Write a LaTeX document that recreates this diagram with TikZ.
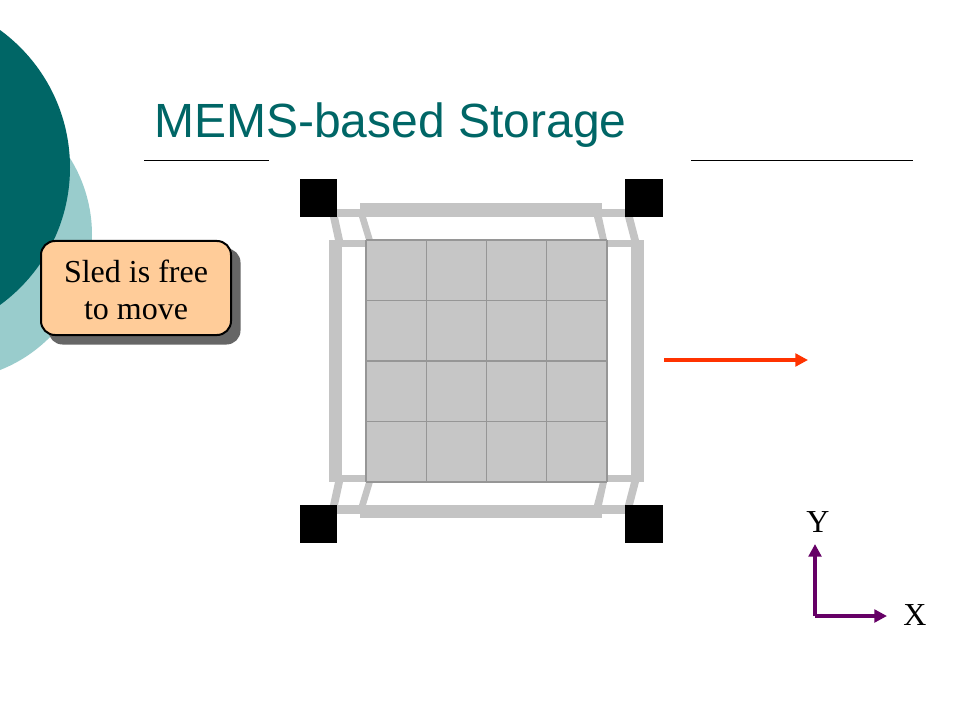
\documentclass[tikz,border=0pt]{standalone}
\usepackage{fontspec}
\setmainfont{Liberation Serif}
\newfontfamily\titlefont{Liberation Sans}
\usetikzlibrary{arrows.meta}
\definecolor{tealdark}{HTML}{006666}
\definecolor{teallight}{HTML}{99CCCC}
\definecolor{springgray}{HTML}{C4C4C4}
\definecolor{sledgray}{HTML}{C6C6C6}
\definecolor{gridgray}{HTML}{969696}
\definecolor{callout}{HTML}{FFCC99}
\definecolor{shadowgray}{HTML}{666666}
\definecolor{arrowred}{HTML}{FF3300}
\definecolor{axispurple}{HTML}{660066}
\tikzset{
  x=0.75pt,y=-0.75pt,
  anchorbox/.style={draw=none,fill=black,minimum width=28.2pt,minimum height=28.2pt,inner sep=0pt,outer sep=0pt},
  spring/.style={fill=springgray,draw=none},
  rule/.style={draw=black,line width=0.6pt},
  gridline/.style={draw=gridgray,line width=1.1pt},
  move/.style={draw=arrowred,line width=2.7pt,-{Triangle[length=9.5pt,width=9.5pt]}},
  axis/.style={draw=axispurple,line width=2.4pt,-{Triangle[length=9.5pt,width=9.5pt]}},
  label/.style={font=\fontsize{24}{28}\selectfont,text=black,inner sep=0pt},
}
\begin{document}
\begin{tikzpicture}
\useasboundingbox (0,0) rectangle (960,720);
\fill[white] (0,0) rectangle (960,720);
% background circles
\begin{scope}
\clip (0,0) rectangle (960,720);
\fill[teallight] (-53,235) circle[radius=145];
\fill[tealdark] (-100,167.5) circle[radius=170];
\end{scope}
% title
\node[anchor=base west,inner sep=0pt,text=tealdark,font=\titlefont\fontsize{36}{40}\selectfont] (title) at (154,137.5) {MEMS-based Storage};
\coordinate (r1a) at (144,160); \coordinate (r1b) at (269,160);
\coordinate (r2a) at (691,160); \coordinate (r2b) at (913,160);
\draw[rule] (r1a) -- (r1b);
\draw[rule] (r2a) -- (r2b);
% springs
\fill[spring] (360,203) rectangle (602,217);
\fill[spring] (360,505) rectangle (602,518);
\fill[spring] (329,240) rectangle (342,482);
\fill[spring] (631,240) rectangle (644,482);
\fill[spring] (337,209) rectangle (360,217);
\fill[spring] (602,209) rectangle (625,217);
\fill[spring] (337,505) rectangle (360,514);
\fill[spring] (602,505) rectangle (625,514);
\fill[spring] (342,240) rectangle (366,247);
\fill[spring] (607,240) rectangle (631,247);
\fill[spring] (342,475) rectangle (366,482);
\fill[spring] (607,475) rectangle (631,482);
\fill[spring] (330,217) -- (338,217) -- (343,240) -- (335,240) -- cycle;
\fill[spring] (359,217) -- (366,217) -- (373,240) -- (366,240) -- cycle;
\fill[spring] (633,217) -- (625,217) -- (631,240) -- (639,240) -- cycle;
\fill[spring] (602,217) -- (594,217) -- (600,240) -- (607,240) -- cycle;
\fill[spring] (330,505) -- (338,505) -- (343,482) -- (335,482) -- cycle;
\fill[spring] (359,505) -- (366,505) -- (373,482) -- (366,482) -- cycle;
\fill[spring] (633,505) -- (625,505) -- (631,482) -- (639,482) -- cycle;
\fill[spring] (602,505) -- (594,505) -- (600,482) -- (607,482) -- cycle;
% anchors
\node[anchorbox] (nw) at (318.5,198) {};
\node[anchorbox] (ne) at (644,198) {};
\node[anchorbox] (sw) at (318.5,524) {};
\node[anchorbox] (se) at (644,524) {};
% sled
\fill[sledgray] (366,240) rectangle (607,482);
\foreach \x in {366,426.25,486.5,546.75,607} \draw[gridline] (\x,240) -- (\x,482);
\foreach \y in {240,300.5,361,421.5,482} \draw[gridline] (366,\y) -- (607,\y);
% callout
\fill[shadowgray,rounded corners=10.5pt] (48.5,248.5) rectangle (240.5,344.5);
\node[draw=black,line width=1.5pt,fill=callout,rounded corners=10.5pt,minimum width=142.5pt,minimum height=70.5pt,inner sep=0pt] (notebox) at (136,288) {};
\node[inner sep=0pt,align=center,font=\fontsize{24}{28}\selectfont] (note) at (136,290) {Sled is free\\to move};
% motion arrow
\coordinate (m1) at (664,360); \coordinate (m2) at (808,360);
\draw[move] (m1) -- (m2);
% axes
\coordinate (o) at (815,616); \coordinate (oy) at (815,544); \coordinate (ox) at (887,616);
\draw[axis] (o) -- (oy);
\draw[axis] (o) -- (ox);
\node[label] (ylabel) at (818,522) {Y};
\node[label] (xlabel) at (915,615) {X};
\end{tikzpicture}
\end{document}
